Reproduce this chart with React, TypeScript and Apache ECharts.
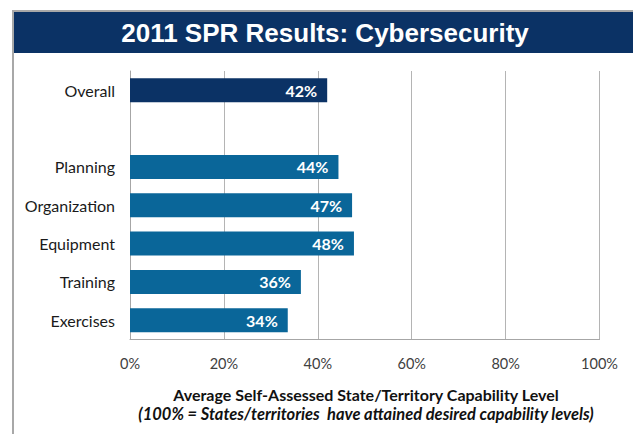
import React, { useEffect, useRef } from "react";
import * as echarts from "echarts";

const TITLE = "2011 SPR Results: Cybersecurity";
const categories = ["Overall", "", "Planning", "Organization", "Equipment", "Training", "Exercises"];
const values: (number | null)[] = [42.0, null, 44.4, 47.3, 47.7, 36.4, 33.6];
const xTicks = [0, 20, 40, 60, 80, 100];
const axisTitle = "Average Self-Assessed State/Territory Capability Level";
const axisSubtitle = "(100% = States/territories  have attained desired capability levels)";

const OVERALL_COLOR = "#0b3265";
const BAR_COLOR = "#0a6699";

export default function App() {
  const ref = useRef<HTMLDivElement>(null);
  useEffect(() => {
    document.body.style.margin = "0";
    if (!ref.current) return;
    const chart = echarts.init(ref.current, null, { renderer: "svg" });
    const font = "Lato";
    chart.setOption({
      animation: false,
      backgroundColor: "#ffffff",
      grid: { left: 130, right: 33.5, top: 71, bottom: 94.5, containLabel: false },
      graphic: [
        { type: "rect", shape: { x: 12, y: 10, width: 621, height: 2 }, style: { fill: "#a8a8a8" }, silent: true },
        { type: "rect", shape: { x: 12, y: 10, width: 2, height: 424 }, style: { fill: "#a8a8a8" }, silent: true },
        { type: "rect", shape: { x: 14, y: 12, width: 619, height: 41 }, style: { fill: OVERALL_COLOR }, silent: true },
        {
          type: "text",
          x: 325,
          y: 33,
          style: {
            text: TITLE,
            fill: "#ffffff",
            font: 'bold 26px "Liberation Sans", Arial, sans-serif',
            textAlign: "center",
            textVerticalAlign: "middle",
          },
        },
        {
          type: "text",
          x: 366,
          y: 394,
          style: {
            text: axisTitle,
            fill: "#111111",
            font: 'bold 16px Lato, sans-serif',
            textAlign: "center",
            textVerticalAlign: "middle",
          },
        },
        {
          type: "text",
          x: 366,
          y: 414,
          style: {
            text: axisSubtitle,
            fill: "#111111",
            font: 'italic bold 16.5px Lato, sans-serif',
            textAlign: "center",
            textVerticalAlign: "middle",
          },
        },
      ],
      xAxis: {
        type: "value",
        min: xTicks[0],
        max: xTicks[xTicks.length - 1],
        interval: 20,
        axisLine: { show: true, lineStyle: { color: "#a6a6a6", width: 1 } },
        axisTick: { show: false },
        splitLine: { show: true, lineStyle: { color: "#b4b4b4", width: 1 } },
        axisLabel: {
          formatter: "{value}%",
          fontFamily: font,
          fontSize: 14.5,
          color: "#404040",
          margin: 16,
        },
      },
      yAxis: {
        type: "category",
        inverse: true,
        data: categories,
        axisLine: { show: true, lineStyle: { color: "#a6a6a6", width: 1 } },
        axisTick: { show: false },
        splitLine: { show: false },
        axisLabel: {
          fontFamily: font,
          fontSize: 16,
          color: "#1a1a1a",
          margin: 15,
        },
      },
      series: [
        {
          type: "bar",
          barWidth: 24,
          data: values.map((v, i) => ({
            value: v === null ? "-" : v,
            itemStyle: { color: i === 0 ? OVERALL_COLOR : BAR_COLOR },
          })),
          label: {
            show: true,
            position: "insideRight",
            distance: 10,
            formatter: (p: any) => `${Math.round(p.value)}%`,
            color: "#ffffff",
            fontFamily: font,
            fontWeight: "bold",
            fontSize: 16,
          },
        },
      ],
    });
    return () => chart.dispose();
  }, []);
  return <div ref={ref} style={{ width: 633, height: 434 }} />;
}
